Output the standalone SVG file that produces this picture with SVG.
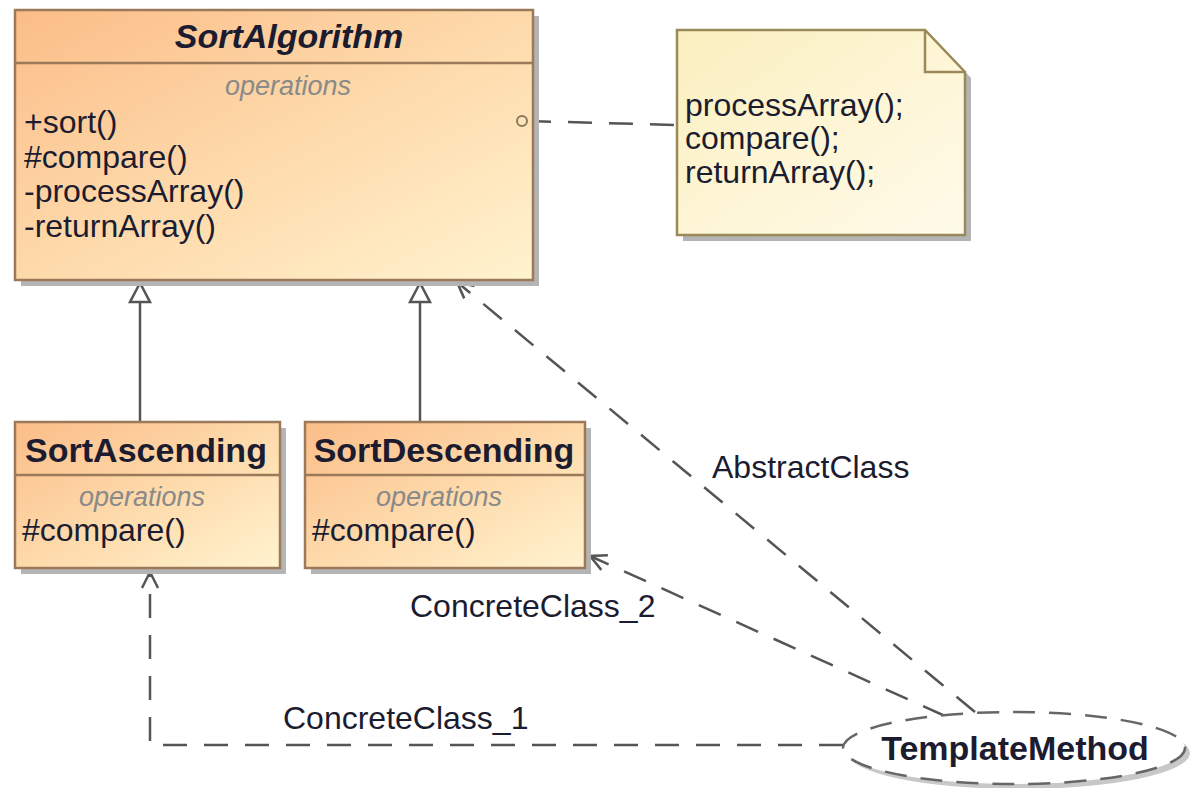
<svg xmlns="http://www.w3.org/2000/svg" width="1193" height="788" viewBox="0 0 1193 788">
<style>
.cls{stroke:#9a7a5a;stroke-width:2.5;fill:url(#gClass)}
.shadow{fill:#b4b4b4}
.sep{stroke:#9a7a5a;stroke-width:2.5}
.t{font-family:"Liberation Sans",Arial,sans-serif;fill:#1c1c30}
.title{font-size:34px;font-weight:bold;text-anchor:middle}
.ops{font-size:27px;font-style:italic;fill:#8a8a8a;text-anchor:middle}
.mem{font-size:32px}
.dash{fill:none;stroke:#555;stroke-width:2.5;stroke-dasharray:24 17}
.solid{fill:none;stroke:#555;stroke-width:2.5}
.lbl{font-size:32px}
</style>
<defs>
<linearGradient id="gClass" x1="0" y1="0" x2="1" y2="1">
<stop offset="0" stop-color="#fbbd88"/>
<stop offset="0.55" stop-color="#fedcae"/>
<stop offset="1" stop-color="#fff3cf"/>
</linearGradient>
<linearGradient id="gNote" x1="0" y1="0" x2="1" y2="1">
<stop offset="0" stop-color="#fbefbf"/>
<stop offset="1" stop-color="#fffbea"/>
</linearGradient>
<marker id="open" viewBox="0 0 20 20" refX="18" refY="10" markerWidth="20" markerHeight="20" markerUnits="userSpaceOnUse" orient="auto">
<path d="M2,2 L18,10 L2,18" fill="none" stroke="#555" stroke-width="2.5" stroke-dasharray="none"/>
</marker>
</defs>
<rect width="1193" height="788" fill="#ffffff"/>

<g id="connectors">
<path class="solid" d="M140,422 L140,302"/>
<polygon points="140,283 130,302 150,302" fill="#ffffff" stroke="#555" stroke-width="2.5"/>
<path class="solid" d="M420,422 L420,302"/>
<polygon points="420,283 410,302 430,302" fill="#ffffff" stroke="#555" stroke-width="2.5"/>
<path class="dash" d="M527,121 L677,125"/>
<path class="dash" d="M843,745 L150,745 L150,572" marker-end="url(#open)"/>
<path class="dash" d="M945,716 L590,556" marker-end="url(#open)"/>
<path class="dash" d="M975,712 L457,282" marker-end="url(#open)"/>
<text class="t lbl" x="712" y="478">AbstractClass</text>
<text class="t lbl" x="410" y="617">ConcreteClass_2</text>
<text class="t lbl" x="283" y="729">ConcreteClass_1</text>
</g>

<g id="SortAlgorithm">
<rect class="shadow" x="21" y="16" width="518" height="270"/>
<rect class="cls" x="15" y="10" width="518" height="270"/>
<line class="sep" x1="15" y1="63" x2="533" y2="63"/>
<text class="t title" x="289" y="48" font-style="italic">SortAlgorithm</text>
<text class="t ops" x="288" y="95">operations</text>
<text class="t mem" x="24" y="133">+sort()</text>
<text class="t mem" x="24" y="168">#compare()</text>
<text class="t mem" x="24" y="202">-processArray()</text>
<text class="t mem" x="24" y="237">-returnArray()</text>
<circle cx="522" cy="121" r="5" fill="none" stroke="#8a7a5a" stroke-width="2"/>
</g>

<g id="Note">
<path d="M683,36 L931,36 L971,78 L971,241 L683,241 Z" fill="#b4b4b4"/>
<path d="M677,30 L925,30 L965,72 L965,235 L677,235 Z" fill="url(#gNote)" stroke="#9a8a5a" stroke-width="2.5"/>
<path d="M925,30 L925,72 L965,72" fill="none" stroke="#9a8a5a" stroke-width="2.5"/>
<text class="t mem" x="685" y="116">processArray();</text>
<text class="t mem" x="685" y="149">compare();</text>
<text class="t mem" x="685" y="183">returnArray();</text>
</g>

<g id="SortAscending">
<rect class="shadow" x="21" y="428" width="265" height="146"/>
<rect class="cls" x="15" y="422" width="265" height="146"/>
<line class="sep" x1="15" y1="475" x2="280" y2="475"/>
<text class="t title" x="146" y="462">SortAscending</text>
<text class="t ops" x="142" y="506">operations</text>
<text class="t mem" x="22" y="541">#compare()</text>
</g>

<g id="SortDescending">
<rect class="shadow" x="311" y="428" width="280" height="146"/>
<rect class="cls" x="305" y="422" width="280" height="146"/>
<line class="sep" x1="305" y1="475" x2="585" y2="475"/>
<text class="t title" x="444" y="462">SortDescending</text>
<text class="t ops" x="439" y="506">operations</text>
<text class="t mem" x="312" y="541">#compare()</text>
</g>

<g id="TemplateMethod">
<ellipse cx="1019" cy="753" rx="171" ry="36" fill="#c8c8c8"/>
<ellipse cx="1014" cy="748" rx="171" ry="36" fill="#ffffff" stroke="#666" stroke-width="2.5" stroke-dasharray="22 14"/>
<text class="t title" x="1015" y="760">TemplateMethod</text>
</g>
</svg>
